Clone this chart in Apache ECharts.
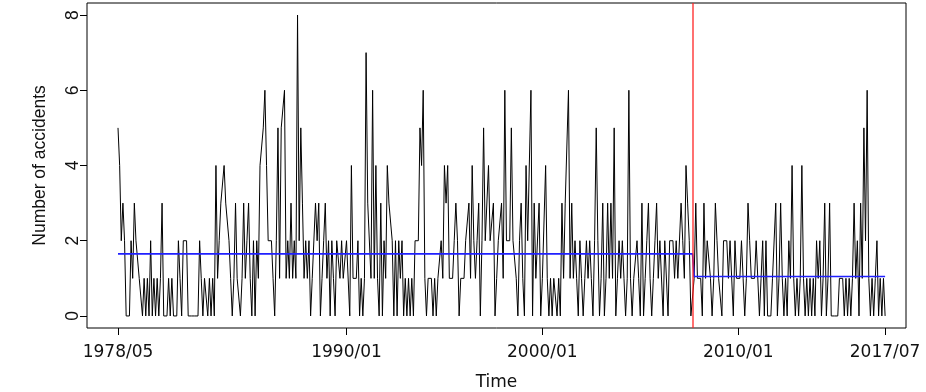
<!DOCTYPE html>
<html>
<head>
<meta charset="utf-8">
<script src="https://cdn.jsdelivr.net/npm/echarts@6/dist/echarts.min.js"></script>
<style>html,body{margin:0;padding:0;background:#fff;}#c{width:926px;height:392px;}</style>
</head>
<body>
<div id="c"></div>
<script>
// Monthly number of accidents, 1978/05 .. 2017/07 (471 months)
const accidents = [
5,4,2,3,2,0,0,0,2,1,
3,2,2,1,1,0,1,0,1,0,
2,0,1,0,1,0,1,3,0,0,
0,1,0,1,0,0,0,2,1,0,
2,2,2,0,0,0,0,0,0,0,
2,1,0,1,1,0,1,0,1,0,
4,1,2,3,3,4,3,3,2,1,
0,1,3,1,1,0,1,3,1,2,
3,1,0,2,0,2,1,4,4,5,
6,4,2,2,2,1,0,2,5,1,
5,5,6,1,2,1,3,1,2,1,
8,2,5,3,1,2,1,2,0,1,
1,3,2,3,0,1,2,3,1,2,
0,2,1,0,2,2,1,2,1,1,
2,2,0,4,1,1,1,2,0,1,
0,1,7,3,3,1,6,1,4,1,
0,3,0,2,1,4,3,3,2,0,
2,0,2,1,2,0,1,0,1,0,
1,0,2,2,2,5,4,6,1,0,
1,1,1,0,1,0,1,1,2,1,
4,3,4,1,1,1,2,3,2,0,
1,1,1,2,2,3,1,4,2,1,
2,3,0,2,5,2,2,4,2,2,
3,0,1,2,2,3,1,6,2,2,
2,5,2,2,1,0,2,3,1,0,
4,2,2,6,0,3,1,1,3,0,
1,1,4,1,0,1,0,1,1,0,
1,0,3,1,3,3,6,1,3,1,
2,1,0,2,1,0,1,2,1,2,
1,0,2,5,2,0,1,3,0,1,
3,1,3,1,5,0,1,2,1,2,
1,0,1,6,1,0,1,1,2,1,
0,3,0,1,2,3,1,0,1,2,
3,1,2,2,0,2,2,0,2,2,
2,1,2,1,1,3,2,1,4,3,
2,0,0,1,3,1,1,1,0,3,
1,2,2,1,0,1,3,2,1,1,
0,2,2,2,1,2,2,0,2,1,
1,1,2,1,0,1,3,2,1,1,
1,2,2,0,1,2,0,2,0,0,
0,1,1,3,0,1,3,1,0,1,
0,2,1,4,1,0,1,0,1,4,
1,0,1,0,1,0,1,0,2,1,
2,0,1,3,0,1,3,0,0,0,
0,0,1,1,1,0,1,0,1,0,
1,3,1,2,0,3,1,5,2,6,
1,0,1,0,1,2,0,1,0,1,0
];
// change point (month index) and segment means
const changeIndex = 352;
const segmentMeans = [1.65, 1.05];
// x tick positions (month index from 1978/05) and labels
const xTickIndex = [0, 140, 260, 380, 470];
const xTickLabels = ['1978/05', '1990/01', '2000/01', '2010/01', '2017/07'];
const yTicks = [0, 2, 4, 6, 8];

const lineData = accidents.map((v, i) => [i, v]);
const meanData = accidents.map((v, i) => [i, i <= changeIndex ? segmentMeans[0] : segmentMeans[1]]);

const hFont = 'DejaVu Sans, Liberation Sans, Arial, sans-serif';
const vFont = 'Liberation Sans, Arial, Helvetica, sans-serif';
const chart = echarts.init(document.getElementById('c'), null, {renderer: 'canvas'});
chart.setOption({
  animation: false,
  backgroundColor: '#fff',
  grid: {left: 87, top: 3, width: 819, height: 325, show: true, borderColor: '#000', borderWidth: 1,
         backgroundColor: 'transparent', containLabel: false, outerBoundsMode: 'none'},
  xAxis: {
    type: 'value', min: -19, max: 482.8,
    name: 'Time', nameLocation: 'middle', nameGap: 46,
    nameTextStyle: {fontFamily: hFont, fontSize: 17, color: '#111'},
    axisLine: {show: false, onZero: false},
    splitLine: {show: false},
    axisTick: {show: true, length: 7, lineStyle: {color: '#000', width: 1}, customValues: xTickIndex},
    axisLabel: {customValues: xTickIndex, margin: 16, fontFamily: hFont, fontSize: 17, color: '#111',
      formatter: v => { const k = xTickIndex.indexOf(Math.round(v)); return k >= 0 ? xTickLabels[k] : ''; }}
  },
  yAxis: {
    type: 'value', min: -0.32, max: 8.32,
    name: 'Number of accidents', nameLocation: 'middle', nameGap: 38,
    nameTextStyle: {fontFamily: vFont, fontSize: 17.5, color: '#111'},
    axisLine: {show: false, onZero: false},
    splitLine: {show: false},
    axisTick: {show: true, length: 7, lineStyle: {color: '#000', width: 1}, customValues: yTicks},
    axisLabel: {customValues: yTicks, rotate: 90, margin: 5, fontFamily: vFont, fontSize: 17.5, color: '#111'}
  },
  series: [
    {type: 'line', data: lineData, showSymbol: false, symbol: 'none',
     lineStyle: {color: '#000', width: 1}, z: 2},
    {type: 'line', data: meanData, showSymbol: false, symbol: 'none',
     lineStyle: {color: '#2020ff', width: 1.6}, z: 3,
     markLine: {silent: true, symbol: ['none', 'none'], label: {show: false},
       lineStyle: {color: '#ff2020', width: 1.6, type: 'solid', opacity: 0.8},
       data: [{xAxis: changeIndex}]}}
  ]
});
</script>
</body>
</html>
